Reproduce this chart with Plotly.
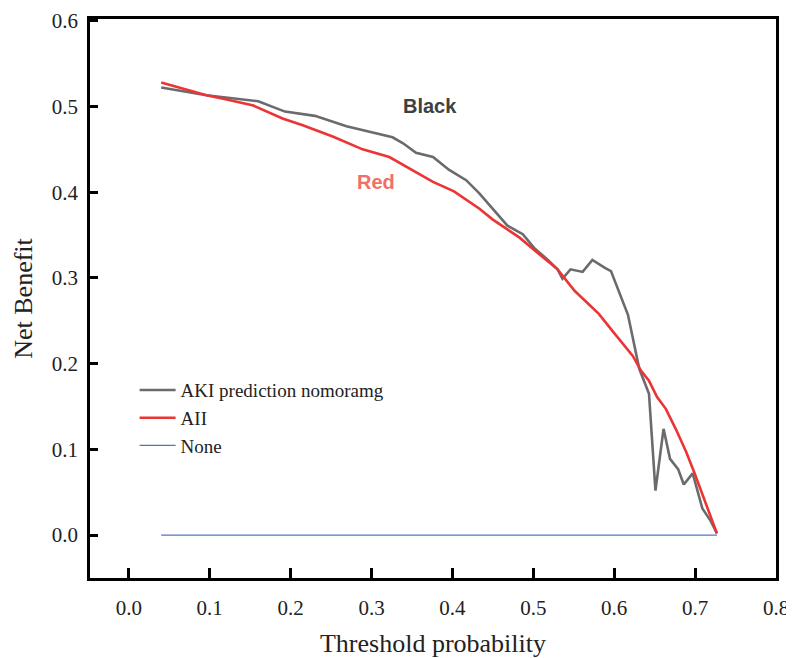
import plotly.graph_objects as go

# Decision curve data
aki_x = [0.040, 0.096, 0.160, 0.193, 0.230, 0.250, 0.269, 0.326, 0.339, 0.355, 0.376, 0.396, 0.417,
         0.433, 0.450, 0.468, 0.487, 0.501, 0.518, 0.530, 0.536, 0.546, 0.561, 0.573, 0.588, 0.596,
         0.617, 0.631, 0.643, 0.651, 0.661, 0.669, 0.679, 0.686, 0.697, 0.709, 0.719, 0.727]
aki_y = [0.522, 0.513, 0.506, 0.494, 0.489, 0.483, 0.477, 0.464, 0.457, 0.446, 0.441, 0.426, 0.414,
         0.399, 0.381, 0.361, 0.351, 0.335, 0.321, 0.310, 0.299, 0.310, 0.307, 0.321, 0.312, 0.308,
         0.257, 0.194, 0.165, 0.052, 0.124, 0.089, 0.077, 0.059, 0.072, 0.031, 0.017, 0.002]

all_x = [0.040, 0.096, 0.121, 0.154, 0.190, 0.215, 0.252, 0.289, 0.322, 0.339, 0.376, 0.402, 0.433,
         0.450, 0.468, 0.483, 0.507, 0.530, 0.551, 0.581, 0.598, 0.623, 0.633, 0.643, 0.653, 0.664,
         0.676, 0.689, 0.699, 0.713, 0.727]
all_y = [0.528, 0.513, 0.508, 0.501, 0.486, 0.478, 0.465, 0.450, 0.441, 0.432, 0.412, 0.401, 0.381,
         0.368, 0.357, 0.347, 0.328, 0.310, 0.285, 0.258, 0.238, 0.209, 0.192, 0.180, 0.161, 0.147,
         0.124, 0.097, 0.073, 0.038, 0.002]

none_x = [0.040, 0.727]
none_y = [0.0, 0.0]

series_names = ["AKI prediction nomoramg", "AII", "None"]
x_ticks = [0.0, 0.1, 0.2, 0.3, 0.4, 0.5, 0.6, 0.7, 0.8]
y_ticks = [0.0, 0.1, 0.2, 0.3, 0.4, 0.5, 0.6]

serif = "Liberation Serif"
sans = "Liberation Sans"
txt = "#222222"

fig = go.Figure()
fig.add_trace(go.Scatter(x=aki_x, y=aki_y, mode="lines", name=series_names[0],
                         line=dict(color="#6b6b6e", width=2.6)))
fig.add_trace(go.Scatter(x=all_x, y=all_y, mode="lines", name=series_names[1],
                         line=dict(color="#ec3434", width=2.6)))
fig.add_trace(go.Scatter(x=none_x, y=none_y, mode="lines", name=series_names[2],
                         line=dict(color="#4a78bf", width=1.1)))

fig.add_annotation(x=0.372, y=0.500, text="<b>Black</b>", showarrow=False,
                   font=dict(family=sans, size=20, color="#404040"))
fig.add_annotation(x=0.305, y=0.412, text="<b>Red</b>", showarrow=False,
                   font=dict(family=sans, size=20, color="#f07068"))

# page body adds an 8px offset; size/margins compensate so the plot box lands at 90..776 x 19..578
fig.update_layout(
    width=786, height=650,
    margin=dict(l=82, r=18, t=11, b=80),
    paper_bgcolor="white", plot_bgcolor="white",
    font=dict(family=serif, size=18, color=txt),
    showlegend=True,
    legend=dict(x=0.065, y=0.37, xanchor="left", yanchor="top",
                bgcolor="rgba(0,0,0,0)", font=dict(family=serif, size=19, color=txt),
                tracegroupgap=0, itemwidth=36),
)
fig.update_xaxes(
    range=[-0.048, 0.8], tickvals=x_ticks, ticktext=[f"{v:.1f}" for v in x_ticks],
    showgrid=False, zeroline=False, showline=True, linecolor="black", linewidth=2.5,
    mirror=True, ticks="inside", ticklen=10, tickwidth=2.5, tickcolor="black",
    ticklabelstandoff=9, automargin=False,
    title=dict(text="Threshold probability", font=dict(family=serif, size=26, color=txt), standoff=16),
    tickfont=dict(family=serif, size=21, color=txt),
)
fig.update_yaxes(
    range=[-0.05, 0.602], tickvals=y_ticks, ticktext=[f"{v:.1f}" for v in y_ticks],
    showgrid=False, zeroline=False, showline=True, linecolor="black", linewidth=2.5,
    mirror=True, ticks="inside", ticklen=8, tickwidth=2.5, tickcolor="black",
    ticklabelstandoff=5, automargin=False,
    title=dict(text="Net Benefit", font=dict(family=serif, size=26, color=txt), standoff=12),
    tickfont=dict(family=serif, size=21, color=txt),
)

fig.write_html("out.html")
